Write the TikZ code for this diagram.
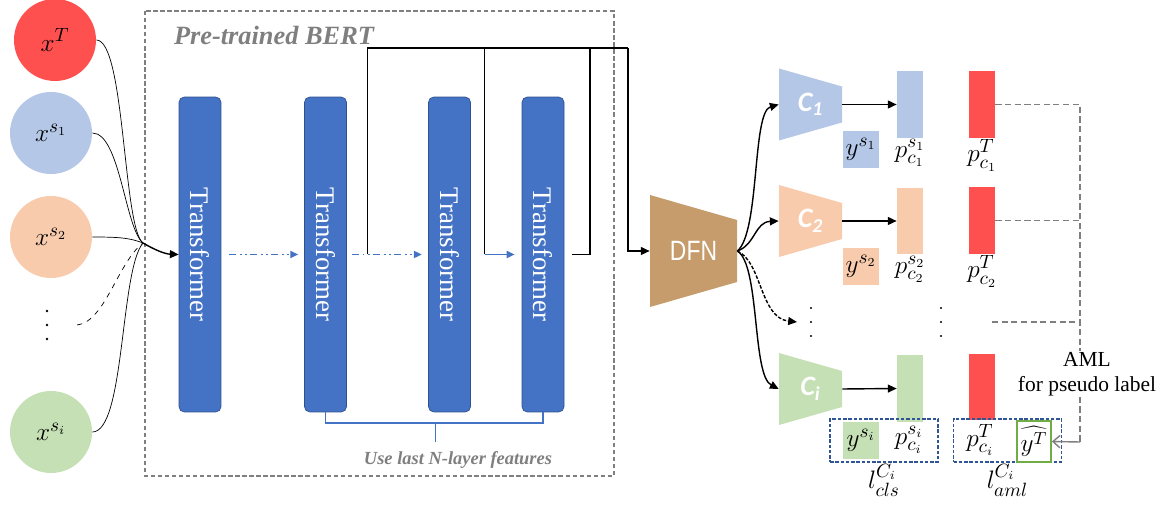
\documentclass[tikz,border=0pt]{standalone}
\usepackage{fontspec}
\setmainfont{Liberation Serif}
\newfontfamily\clsfont{Carlito}
\newfontfamily\dfnfont{Liberation Sans}
\usetikzlibrary{arrows.meta,positioning}

\definecolor{tgtred}{HTML}{FF5050}
\definecolor{srcblue}{HTML}{B4C7E7}
\definecolor{srcorange}{HTML}{F8CBAD}
\definecolor{srcgreen}{HTML}{C5E0B4}
\definecolor{trblue}{HTML}{4472C4}
\definecolor{trborder}{HTML}{2F528F}
\definecolor{dfnbrown}{HTML}{C69C6D}
\definecolor{boxgray}{HTML}{7F7F7F}
\definecolor{lossnavy}{HTML}{2F5597}
\definecolor{hatgreen}{HTML}{70AD47}

\tikzset{
  inp/.style={circle, minimum size=1.64cm, inner sep=0pt, font=\fontsize{15}{17}\selectfont},
  trbar/.style={draw=trborder, fill=trblue, rounded corners=3pt, minimum width=0.84cm,
    minimum height=6.3cm, inner sep=0pt, text=white, font=\fontsize{15.3}{18}\selectfont},
  bertbox/.style={draw=boxgray, line width=1.1pt, dash pattern=on 2.5pt off 1.5pt},
  title/.style={text=boxgray, font=\fontsize{15}{17}\selectfont\bfseries\itshape},
  note/.style={text=boxgray, font=\fontsize{10.5}{12}\selectfont\bfseries\itshape},
  flow/.style={-{Triangle[length=5pt,width=4.5pt]}, line width=0.8pt},
  feat/.style={line width=0.8pt},
  layer/.style={trblue, line width=0.9pt, -{Triangle[length=4.5pt,width=4pt]}},
  skip/.style={layer, dash pattern=on 4pt off 2pt on 1pt off 2pt on 1pt off 2pt},
  brace/.style={draw=trblue, line width=0.8pt},
  dfnlbl/.style={minimum width=1.74cm, inner sep=0pt, text=white, font=\fontsize{15.9}{18}\dfnfont},
  clslbl/.style={minimum width=1.26cm, inner sep=0pt, text=white, font=\fontsize{16}{18}\clsfont\bfseries\itshape},
  pbar/.style={minimum width=0.52cm, minimum height=1.34cm, inner sep=0pt},
  ybox/.style={minimum width=0.72cm, minimum height=0.74cm, inner sep=0pt, font=\fontsize{15}{17}\selectfont},
  lbl/.style={inner sep=0.5pt, font=\fontsize{15}{17}\selectfont},
  lossbox/.style={draw=lossnavy, line width=0.8pt, dash pattern=on 2pt off 1pt, minimum width=2.16cm, minimum height=0.86cm},
  hatbox/.style={draw=hatgreen, line width=1pt, minimum width=0.68cm, minimum height=0.82cm, inner sep=0pt, font=\fontsize{14}{16}\selectfont},
  amlline/.style={boxgray, line width=0.8pt, dash pattern=on 3.5pt off 2pt},
  amltext/.style={fill=white, align=center, inner sep=1pt, font=\fontsize{12.2}{14}\selectfont}
}

\begin{document}
\begin{tikzpicture}[x=0.02cm, y=-0.02cm]
  \useasboundingbox (0,0) rectangle (1166,506);

  % pre-trained encoder
  \draw[bertbox] (145,11) rectangle (614,476);
  \node[title] (berttitle) at (274,35) {Pre-trained BERT};

  % inputs
  \node[inp, fill=tgtred] (xT) at (55,40) {$x^T$};
  \node[inp, fill=srcblue] (xs1) at (51,133) {$x^{s_1}$};
  \node[inp, fill=srcorange] (xs2) at (51,237) {$x^{s_2}$};
  \node[inp, fill=srcgreen] (xsi) at (51,432) {$x^{s_i}$};
  \foreach \y in {311,325,339} \fill (47,\y) circle (1.3);
  \coordinate (xdots) at (77,325);
  \coordinate (jin) at (143,243);

  % transformer layers
  \foreach \n/\x in {t1/200, t2/325.5, t3/449.5, t4/543}
    \node[trbar] (\n) at (\x,254.5) {\rotatebox{-90}{Transformer}};

  \draw (xT.east) .. controls (125,40) and (123,228) .. (jin);
  \draw (xs1.east) .. controls (120,133) and (125,228) .. (jin);
  \draw (xs2.east) .. controls (120,237) and (130,238) .. (jin);
  \draw[dashed] (xdots) .. controls (105,322) and (118,262) .. (jin);
  \draw (xsi.east) .. controls (125,432) and (120,270) .. (jin);
  \draw[flow] (jin) .. controls (155,250) and (165,254) .. (t1.west);

  \draw[skip] ([xshift=4.5pt]t1.east) -- ([xshift=-3.4pt]t2.west);
  \draw[skip] ([xshift=3pt]t2.east) -- ([xshift=-3.6pt]t3.west);
  \draw[layer] ([xshift=8pt]t3.east) -- ([xshift=-4pt]t4.west);

  % last layers to DFN
  \fill[dfnbrown] (650,195) -- (737,220) -- (737,282) -- (650,307) -- cycle;
  \node[dfnlbl] (dfn) at (693.5,251) {\scalebox{0.82}[1]{DFN}};
  \coordinate (jtop) at (628,48);
  \draw[feat] ([xshift=11.6pt]t2.east) |- (jtop);
  \draw[feat] ([xshift=7.6pt]t3.east) |- (jtop);
  \draw[feat] ([xshift=4.5pt]t4.east) -- ([xshift=14.7pt]t4.east) |- (jtop);
  \draw[flow] (jtop) |- (dfn.west);

  \coordinate (brc) at (435.5,423);
  \draw[brace] (t2.south) |- (brc) -| (t4.south);
  \draw[brace] (brc) -- ++(0,19);
  \node[note] (uselast) at (458,460) {Use last N-layer features};

  % classifiers
  \foreach \n/\y/\c/\s in {c1/104.5/srcblue/1, c2/221/srcorange/2, ci/389/srcgreen/i}{
    \fill[\c] (779,\y-36) -- (842,\y-18) -- (842,\y+18) -- (779,\y+36) -- cycle;
    \node[clslbl] (\n) at (810.5,\y) {C\textsubscript{\s}};
  }
  \coordinate (cdots) at (797,322);
  \draw[flow] (dfn.east) .. controls (760,232) and (752,112) .. (c1.west);
  \draw[flow] (dfn.east) .. controls (755,245) and (755,222) .. (c2.west);
  \draw[flow, dash pattern=on 2pt off 1pt] (dfn.east) .. controls (762,262) and (760,318) .. (cdots);
  \draw[flow] (dfn.east) .. controls (760,265) and (752,375) .. (ci.west);

  % predictions
  \node[pbar, fill=srcblue] (p1) at (910,104.5) {};
  \node[pbar, fill=srcorange] (p2) at (910,221) {};
  \node[pbar, fill=srcgreen] (pli) at (910,388.5) {};
  \node[pbar, fill=tgtred] (r1) at (982,104.5) {};
  \node[pbar, fill=tgtred] (r2) at (982,220.5) {};
  \node[pbar, fill=tgtred] (rli) at (982,387) {};
  \draw[flow] (c1.east) -- (p1.west);
  \draw[flow] (c2.east) -- (p2.west);
  \draw[flow] (ci.east) -- (pli.west);

  \node[ybox, fill=srcblue] (ys1) at (861,149.5) {$y^{s_1}$};
  \node[ybox, fill=srcorange] (ys2) at (861,266.5) {$y^{s_2}$};
  \node[lbl, below=0pt of p1] (lp1) {$p^{s_1}_{c_1}$};
  \node[lbl, below=0pt of r1] (lr1) {$p^{T}_{c_1}$};
  \node[lbl, below=0pt of p2] (lp2) {$p^{s_2}_{c_2}$};
  \node[lbl, below=0pt of r2] (lr2) {$p^{T}_{c_2}$};
  \foreach \y in {308,322,336} {
    \fill (811,\y) circle (1.2);
    \fill (941,\y) circle (1.2);
  }
  \coordinate (rdots) at (992,322);

  % losses
  \node[lossbox] (lcls) at (884,440.5) {};
  \node[lossbox] (laml) at (1007.5,440.5) {};
  \node[ybox, fill=srcgreen] (ysi) at (861,440.5) {$y^{s_i}$};
  \node[lbl] (lpi) at (909,440) {$p^{s_i}_{c_i}$};
  \node[lbl] (lri) at (980,440) {$p^{T}_{c_i}$};
  \node[hatbox] (yhat) at (1034,441.5) {$\widehat{y^T}$};
  \node[lbl, below=0pt of lcls] (losscls) {$l^{C_i}_{cls}$};
  \node[lbl, below=0pt of laml] (lossaml) {$l^{C_i}_{aml}$};

  \coordinate (jaml) at (1080,442);
  \draw[amlline] (r1.east) -| (jaml);
  \draw[amlline] (r2.east) -- (r2.east -| jaml);
  \draw[amlline] (rdots) -- (rdots -| jaml);
  \draw[boxgray, line width=0.8pt, -{Straight Barb[length=4pt,width=7pt]}] (jaml) -- (yhat.east);
  \node[amltext] (amlnote) at (1087,374) {AML\\for pseudo label};
\end{tikzpicture}
\end{document}
